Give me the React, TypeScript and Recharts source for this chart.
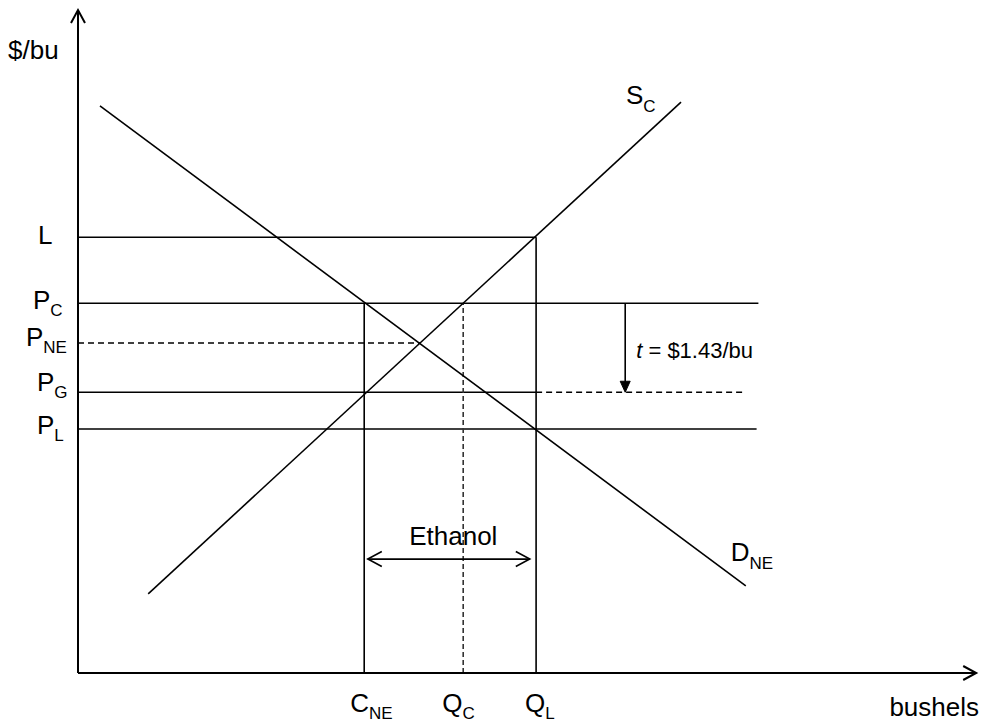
import React from 'react';
import { ComposedChart, Line, XAxis, YAxis, ReferenceLine, ReferenceDot } from 'recharts';

const FONT = '"Liberation Sans", Arial, Helvetica, sans-serif';
const MAIN = 26;
const SUB = 17;

// Supply (S_C) and demand (D_NE) curve end points: quantity, $/bu
const supplyQ = [7.8, 67.0];
const supplyP = [1.27, 9.17];
const demandQ = [2.44, 74.2];
const demandP = [9.11, 1.4];

// Price levels on the vertical axis ($/bu): L, P_C, P_NE, P_G, P_L
const priceValues = [7.0, 5.94, 5.3, 4.51, 3.92];
const priceMain = ['L', 'P', 'P', 'P', 'P'];
const priceSub = ['', 'C', 'NE', 'G', 'L'];

// Quantities on the horizontal axis: C_NE, Q_C, Q_L
const qtyValues = [31.8, 42.8, 50.9];
const qtyMain = ['C', 'Q', 'Q'];
const qtySub = ['NE', 'C', 'L'];

const [pL, pC, pNE, pG, pLow] = priceValues;
const [qCNE, qC, qL] = qtyValues;

// Other read values
const qNE = 38.0; // S_C and D_NE crossing
const pcLineEnd = 75.6;
const plLineEnd = 75.4;
const pgDashEnd = 74.1;
const taxQ = 60.8;
const taxValue = 1.43;
const ethanolQ = [32.2, 50.2];
const ethanolP = 1.83;
const xMax = 100;
const yMax = 10.65;

const supplyData = supplyQ.map((q, i) => ({ q, p: supplyP[i] }));
const demandData = demandQ.map((q, i) => ({ q, p: demandP[i] }));

// label layout (pixel offsets from anchors)
const priceLabelDx = [-40, -45, -52, -41, -41];
const priceLabelDy = [7, 6, 3, -1, 5];
const qtyLabelDx = [-14, -21, -11];

const STROKE = '#000';
const LW = 1.6;

const PriceTick = (props: any) => {
  const { x, y, payload } = props;
  const i = priceValues.indexOf(payload.value);
  if (i < 0) return null;
  return (
    <text x={x + priceLabelDx[i]} y={y + priceLabelDy[i]} fontFamily={FONT} fontSize={MAIN} fill="#000" textAnchor="start">
      <tspan>{priceMain[i]}</tspan>
      {priceSub[i] ? <tspan fontSize={SUB} dy={7}>{priceSub[i]}</tspan> : null}
    </text>
  );
};

const QtyTick = (props: any) => {
  const { x, y, payload } = props;
  const i = qtyValues.indexOf(payload.value);
  if (i < 0) return null;
  return (
    <text x={x + qtyLabelDx[i]} y={y + 39} fontFamily={FONT} fontSize={MAIN} fill="#000" textAnchor="start">
      <tspan>{qtyMain[i]}</tspan>
      <tspan fontSize={SUB} dy={7}>{qtySub[i]}</tspan>
    </text>
  );
};

function chevron(tx: number, ty: number, dx: number, dy: number, len: number, half: number) {
  const n = Math.hypot(dx, dy) || 1;
  const ux = dx / n;
  const uy = dy / n;
  const bx = tx - ux * len;
  const by = ty - uy * len;
  const px = -uy;
  const py = ux;
  return `${bx + px * half},${by + py * half} ${tx},${ty} ${bx - px * half},${by - py * half}`;
}

const axisArrow = (props: any) => {
  const { x1, y1, x2, y2 } = props;
  return (
    <g>
      <line x1={x1} y1={y1} x2={x2} y2={y2} stroke={STROKE} strokeWidth={2} />
      <polyline points={chevron(x2, y2, x2 - x1, y2 - y1, 13, 7)} fill="none" stroke={STROKE} strokeWidth={2} />
    </g>
  );
};

const doubleArrow = (props: any) => {
  const { x1, y1, x2, y2 } = props;
  return (
    <g>
      <line x1={x1} y1={y1} x2={x2} y2={y2} stroke={STROKE} strokeWidth={LW} />
      <polyline points={chevron(x2, y2, x2 - x1, y2 - y1, 14, 7.5)} fill="none" stroke={STROKE} strokeWidth={LW} />
      <polyline points={chevron(x1, y1, x1 - x2, y1 - y2, 14, 7.5)} fill="none" stroke={STROKE} strokeWidth={LW} />
    </g>
  );
};

const taxArrow = (props: any) => {
  const { x1, y1, x2, y2 } = props;
  const pts = chevron(x2, y2, x2 - x1, y2 - y1, 11, 5);
  return (
    <g>
      <line x1={x1} y1={y1} x2={x2} y2={y2 - 8} stroke={STROKE} strokeWidth={LW} />
      <polygon points={pts} fill={STROKE} stroke={STROKE} strokeWidth={1} />
    </g>
  );
};

const textShape = (main: string, sub: string, dx: number, dy: number, opts: any = {}) => (props: any) => {
  const { cx, cy } = props;
  return (
    <text
      x={cx + dx}
      y={cy + dy}
      fontFamily={FONT}
      fontSize={opts.size || MAIN}
      fill="#000"
      textAnchor={opts.anchor || 'start'}
    >
      {opts.italicPrefix ? <tspan fontStyle="italic">{opts.italicPrefix}</tspan> : null}
      <tspan>{main}</tspan>
      {sub ? <tspan fontSize={SUB} dy={8}>{sub}</tspan> : null}
    </text>
  );
};

const seg = (xa: number, ya: number, xb: number, yb: number) => [
  { x: xa, y: ya },
  { x: xb, y: yb },
];

export default function App() {
  return (
    <div style={{ position: 'absolute', left: 0, top: 0, width: 987, height: 723, background: '#fff' }}>
      <ComposedChart width={987} height={723} margin={{ top: 10, right: 9, bottom: 0, left: 0 }}>
        <XAxis
          type="number"
          dataKey="q"
          domain={[0, xMax]}
          ticks={qtyValues}
          interval={0}
          axisLine={false}
          tickLine={false}
          tickSize={0}
          tickMargin={0}
          height={50}
          tick={<QtyTick />}
          allowDataOverflow
        />
        <YAxis
          type="number"
          dataKey="p"
          domain={[0, yMax]}
          ticks={priceValues}
          interval={0}
          axisLine={false}
          tickLine={false}
          tickSize={0}
          tickMargin={0}
          width={78}
          tick={<PriceTick />}
          allowDataOverflow
        />

        {/* horizontal price lines */}
        <ReferenceLine segment={seg(0, pL, qL, pL)} stroke={STROKE} strokeWidth={LW} />
        <ReferenceLine segment={seg(0, pC, pcLineEnd, pC)} stroke={STROKE} strokeWidth={LW} />
        <ReferenceLine segment={seg(0, pNE, qNE, pNE)} stroke={STROKE} strokeWidth={LW} strokeDasharray="6 4" />
        <ReferenceLine segment={seg(0, pG, qL, pG)} stroke={STROKE} strokeWidth={LW} />
        <ReferenceLine segment={seg(qL, pG, pgDashEnd, pG)} stroke={STROKE} strokeWidth={LW} strokeDasharray="6 4" />
        <ReferenceLine segment={seg(0, pLow, plLineEnd, pLow)} stroke={STROKE} strokeWidth={LW} />

        {/* vertical quantity lines */}
        <ReferenceLine segment={seg(qCNE, 0, qCNE, pC)} stroke={STROKE} strokeWidth={LW} />
        <ReferenceLine segment={seg(qC, 0, qC, pC)} stroke="#333" strokeWidth={LW} strokeDasharray="5 3" />
        <ReferenceLine segment={seg(qL, 0, qL, pL)} stroke={STROKE} strokeWidth={LW} />

        {/* supply & demand */}
        <Line data={supplyData} dataKey="p" type="linear" stroke={STROKE} strokeWidth={LW} dot={false} isAnimationActive={false} />
        <Line data={demandData} dataKey="p" type="linear" stroke={STROKE} strokeWidth={LW} dot={false} isAnimationActive={false} />

        {/* arrows */}
        <ReferenceLine segment={seg(taxQ, pC, taxQ, pC - taxValue)} shape={taxArrow} />
        <ReferenceLine segment={seg(ethanolQ[0], ethanolP, ethanolQ[1], ethanolP)} shape={doubleArrow} />

        {/* axes */}
        <ReferenceLine segment={seg(0, 0, 0, yMax)} shape={axisArrow} />
        <ReferenceLine segment={seg(0, 0, xMax - 0.2, 0)} shape={axisArrow} />

        {/* text labels */}
        <ReferenceDot x={supplyQ[1]} y={supplyP[1]} r={0} shape={textShape('S', 'C', -55, 2)} />
        <ReferenceDot x={demandQ[1]} y={demandP[1]} r={0} shape={textShape('D', 'NE', -15, -25)} />
        <ReferenceDot
          x={(ethanolQ[0] + ethanolQ[1]) / 2}
          y={ethanolP}
          r={0}
          shape={textShape('Ethanol', '', 4.5, -14, { anchor: 'middle' })}
        />
        <ReferenceDot
          x={taxQ}
          y={pC - taxValue / 2}
          r={0}
          shape={textShape(` = $${taxValue.toFixed(2)}/bu`, '', 11, 10, { size: 22, italicPrefix: 't' })}
        />
        <ReferenceDot x={0} y={yMax} r={0} shape={textShape('$/bu', '', -70, 49)} />
        <ReferenceDot x={xMax} y={0} r={0} shape={textShape('bushels', '', 1, 43, { anchor: 'end' })} />
      </ComposedChart>
    </div>
  );
}
